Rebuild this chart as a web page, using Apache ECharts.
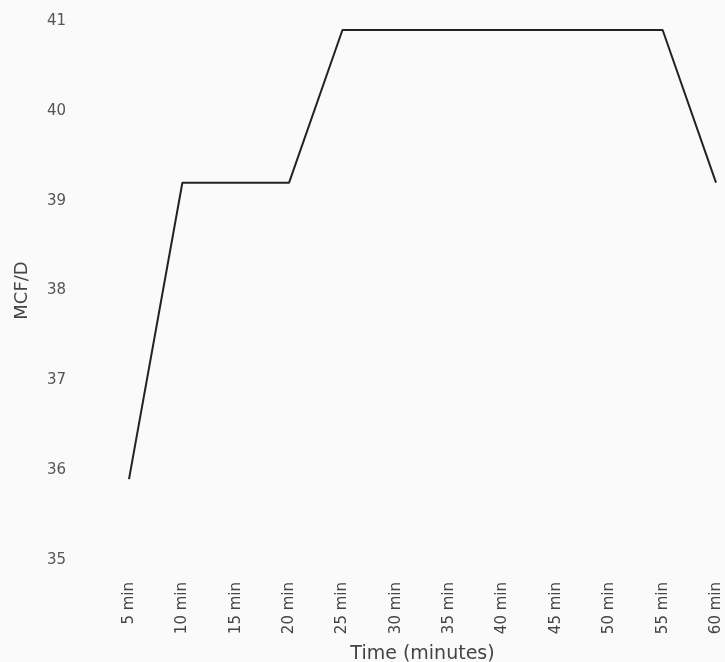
<!DOCTYPE html>
<html><head><meta charset="utf-8">
<script src="https://cdn.jsdelivr.net/npm/echarts@6/dist/echarts.min.js"></script>
<style>html,body{margin:0;padding:0;background:#fafafa;}#c{width:725px;height:662px;}</style>
</head><body><div id="c"></div>
<script>
var categories = ['5 min','10 min','15 min','20 min','25 min','30 min','35 min','40 min','45 min','50 min','55 min','60 min'];
var values = [35.9, 39.2, 39.2, 39.2, 40.9, 40.9, 40.9, 40.9, 40.9, 40.9, 40.9, 39.2];
var yTicks = [35, 36, 37, 38, 39, 40, 41];
var chart = echarts.init(document.getElementById('c'));
chart.setOption({
  backgroundColor: '#fafafa',
  animation: false,
  textStyle: {fontFamily: 'DejaVu Sans'},
  grid: {left: 129, right: 9, top: 21, bottom: 102, containLabel: false, outerBoundsMode: 'none'},
  xAxis: {
    type: 'category', data: categories, boundaryGap: false,
    name: 'Time (minutes)', nameLocation: 'middle', nameGap: 85,
    nameTextStyle: {color: '#444', fontSize: 19, fontFamily: 'DejaVu Sans'},
    axisLine: {show: false}, axisTick: {show: false}, splitLine: {show: false},
    axisLabel: {rotate: 90, margin: 22, color: '#444', fontSize: 15, fontFamily: 'DejaVu Sans'}
  },
  yAxis: {
    type: 'value', min: yTicks[0], max: yTicks[yTicks.length-1], interval: 1,
    name: 'MCF/D', nameLocation: 'middle', nameGap: 98,
    nameTextStyle: {color: '#444', fontSize: 18, fontFamily: 'DejaVu Sans'},
    axisLine: {show: false}, axisTick: {show: false}, splitLine: {show: false},
    axisLabel: {margin: 82, align: 'left', color: '#555', fontSize: 15, fontFamily: 'DejaVu Sans'}
  },
  series: [{
    type: 'line', data: values, symbol: 'none',
    lineStyle: {color: '#222', width: 2}
  }]
});
</script></body></html>
